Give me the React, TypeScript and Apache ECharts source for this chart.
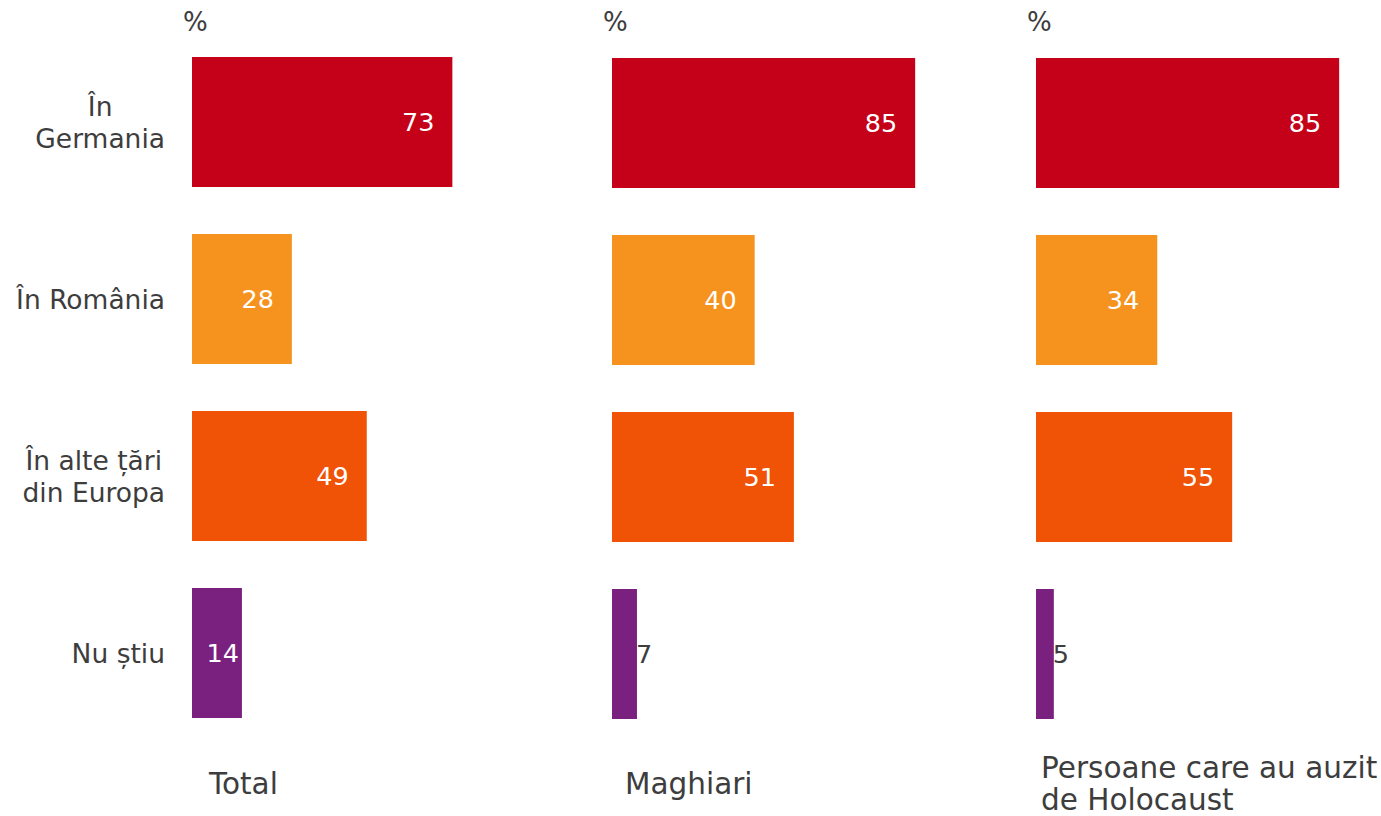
import React, { useEffect, useRef } from "react";
import * as echarts from "echarts";

const categories = ["În\nGermania", "În România", "În alte țări\ndin Europa", "Nu știu"];
const panelTitles = ["Total", "Maghiari", "Persoane care au auzit\nde Holocaust"];
const totalValues = [73, 28, 49, 14];
const maghiariValues = [85, 40, 51, 7];
const holocaustValues = [85, 34, 55, 5];
const barColors = ["#C50019", "#F6931F", "#F05206", "#7A217F"];
const unitLabel = "%";

const FONT = "DejaVu Sans";
const TEXT = "#3d3d3d";

const panelLeft = [192, 612, 1036];
const panelTop = [57 - 23.5, 58 - 23.5, 58 - 23.5];
const titleX = [209, 625, 1041];
const axisMax = 90;
const gridWidth = 321;
const gridHeight = 708;

function labelFor(v: number) {
  if (v < 10) {
    return { position: "right", distance: -1, color: TEXT };
  }
  if (v < 20) {
    return { position: "insideRight", distance: 3, color: "#ffffff" };
  }
  return { position: "insideRight", distance: 18, color: "#ffffff" };
}

export default function App() {
  const ref = useRef<HTMLDivElement>(null);

  useEffect(() => {
    if (!ref.current) return;
    const chart = echarts.init(ref.current, undefined, { renderer: "svg" });
    const panels = [totalValues, maghiariValues, holocaustValues];

    const grid = panels.map((_, i) => ({
      left: panelLeft[i],
      top: panelTop[i],
      width: gridWidth,
      height: gridHeight,
      containLabel: false,
    }));
    const xAxis = panels.map((_, i) => ({
      type: "value",
      gridIndex: i,
      min: 0,
      max: axisMax,
      show: false,
    }));
    const yAxis = panels.map((_, i) => ({
      type: "category",
      gridIndex: i,
      data: categories,
      inverse: true,
      axisLine: { show: false },
      axisTick: { show: false },
      splitLine: { show: false },
      axisLabel: {
        show: i === 0,
        margin: 27,
        fontFamily: FONT,
        fontSize: 26.5,
        color: TEXT,
        lineHeight: 32,
        formatter: (val: string) =>
          val
            .split("\n")
            .map((s) => "{c|" + s + "}")
            .join("\n"),
        rich: {
          c: { align: "center", fontFamily: FONT, fontSize: 26.5, color: TEXT, lineHeight: 32 },
        },
      },
    }));
    const series = panels.map((vals, i) => ({
      type: "bar",
      xAxisIndex: i,
      yAxisIndex: i,
      barWidth: 130,
      data: vals.map((v, j) => ({
        value: v,
        itemStyle: { color: barColors[j] },
        label: {
          show: true,
          fontFamily: FONT,
          fontSize: 25.5,
          ...labelFor(v),
        },
      })),
    }));

    const graphic: any[] = [];
    panels.forEach((_, i) => {
      graphic.push({
        type: "text",
        x: panelLeft[i] - 9,
        y: 22,
        style: {
          text: unitLabel,
          fontFamily: FONT,
          fontSize: 26,
          fill: TEXT,
          verticalAlign: "middle",
          align: "left",
        },
      });
      graphic.push({
        type: "text",
        x: titleX[i],
        y: 784,
        style: {
          text: panelTitles[i],
          fontFamily: FONT,
          fontSize: 29.5,
          lineHeight: 32,
          fill: TEXT,
          verticalAlign: "middle",
          align: "left",
        },
      });
    });

    chart.setOption({
      animation: false,
      backgroundColor: "#ffffff",
      grid,
      xAxis,
      yAxis,
      series,
      graphic,
    } as any);

    return () => chart.dispose();
  }, []);

  return (
    <div
      ref={ref}
      style={{ position: "absolute", left: 0, top: 0, width: 1381, height: 816 }}
    />
  );
}
